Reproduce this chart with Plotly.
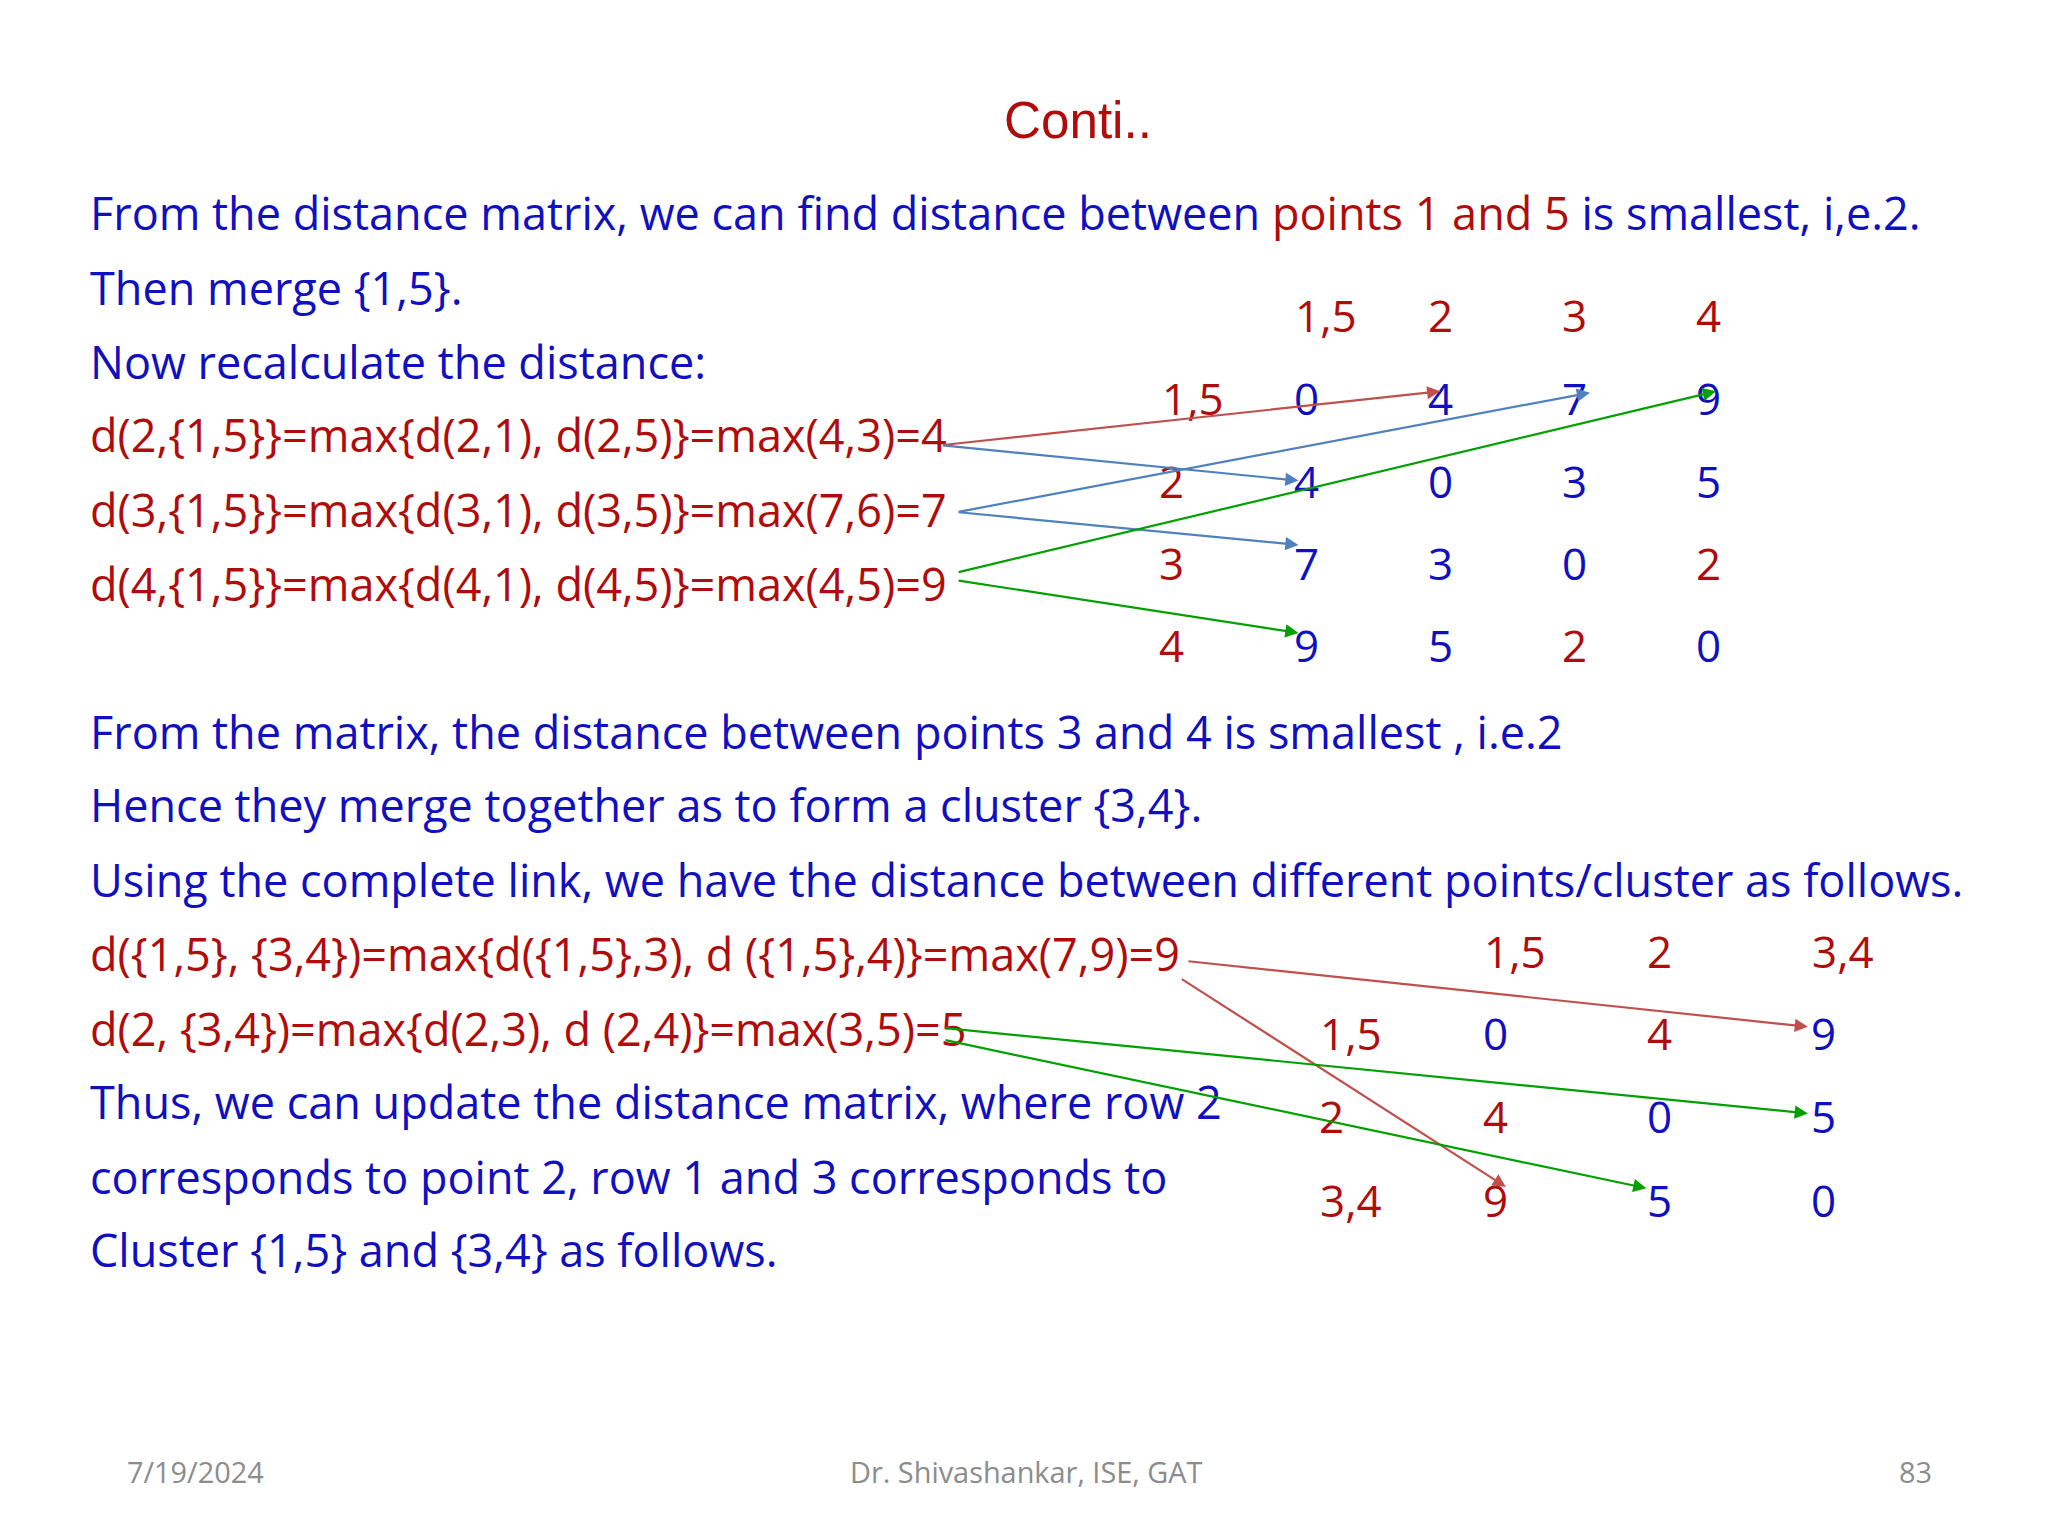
import plotly.graph_objects as go

BLUE = "#1010C0"
RED = "#B00C0C"
FONT = "Open Sans"

title = "Conti.."
upper_lines = [
    ("From the distance matrix, we can find distance between <span style='color:%s'>points 1 and 5</span> is smallest, i,e.2." % RED, BLUE),
    ("Then merge {1,5}.", BLUE),
    ("Now recalculate the distance:", BLUE),
    ("d(2,{1,5}}=max{d(2,1), d(2,5)}=max(4,3)=4", RED),
    ("d(3,{1,5}}=max{d(3,1), d(3,5)}=max(7,6)=7", RED),
    ("d(4,{1,5}}=max{d(4,1), d(4,5)}=max(4,5)=9", RED),
]
upper_y = [163, 220, 276, 332, 389, 445]
lower_lines = [
    ("From the matrix, the distance between points 3 and 4 is smallest , i.e.2", BLUE),
    ("Hence they merge together as to form a cluster {3,4}.", BLUE),
    ("Using the complete link, we have the distance between different points/cluster as follows.", BLUE),
    ("d({1,5}, {3,4})=max{d({1,5},3), d ({1,5},4)}=max(7,9)=9", RED),
    ("d(2, {3,4})=max{d(2,3), d (2,4)}=max(3,5)=5", RED),
    ("Thus, we can update the distance matrix, where row 2", BLUE),
    ("corresponds to point 2, row 1 and 3 corresponds to", BLUE),
    ("Cluster {1,5} and {3,4} as follows.", BLUE),
]
lower_y = [558, 614, 671, 727, 784, 840, 897, 953]

m1_headers = ["1,5", "2", "3", "4"]
m1_values = [[0, 4, 7, 9], [4, 0, 3, 5], [7, 3, 0, 2], [9, 5, 2, 0]]
m1_red = [(2, 3), (3, 2)]
m2_headers = ["1,5", "2", "3,4"]
m2_values = [[0, 4, 9], [4, 0, 5], [9, 5, 0]]
m2_red = [(0, 1), (1, 0), (2, 0)]

footer_left, footer_mid, footer_right = "7/19/2024", "Dr. Shivashankar, ISE, GAT", "83"

DX, DY = -7, -7
fig = go.Figure()
ann = []
def txt(x, y, s, color, size=34.3, xa="left", fam=FONT):
    ann.append(dict(x=x + DX, y=y + DY, text=s, showarrow=False, xanchor=xa, yanchor="middle",
                    font=dict(family=fam, size=size*2048/1560, color=color)))

txt(822, 93, title, RED, 39, "center", "Liberation Sans")
for (s, c), y in zip(upper_lines, upper_y):
    txt(68, y, s, c)
for (s, c), y in zip(lower_lines, lower_y):
    txt(68, y, s, c)

hx1 = [1011, 1098, 1200, 1302]
vx1 = [996, 1098, 1200, 1302]
ry1 = [304, 367, 430, 492]
rlx1 = [910, 893, 893, 893]
for h, x in zip(m1_headers, hx1):
    txt(x, 241, h, RED, 33.5, xa="center")
for i, row in enumerate(m1_values):
    txt(rlx1[i], ry1[i], m1_headers[i], RED, 33.5, xa="center")
    for j, v in enumerate(row):
        txt(vx1[j], ry1[i], str(v), RED if (i, j) in m1_red else BLUE, 33.5, xa="center")

hx2 = [1155, 1265, 1405]
vx2 = [1140, 1265, 1390]
ry2 = [788, 851, 915]
rlx2 = [1030, 1015, 1030]
for h, x in zip(m2_headers, hx2):
    txt(x, 725, h, RED, 33.5, xa="center")
for i, row in enumerate(m2_values):
    txt(rlx2[i], ry2[i], m2_headers[i], RED, 33.5, xa="center")
    for j, v in enumerate(row):
        txt(vx2[j], ry2[i], str(v), RED if (i, j) in m2_red else BLUE, 33.5, xa="center")

GRAY = "#8C8C8C"
txt(150, 1122, footer_left, GRAY, 22, "center")
txt(783, 1122, footer_mid, GRAY, 22, "center")
txt(1460, 1122, footer_right, GRAY, 22, "center")

arrows = [
    ((718, 340), (1098, 299), "#C0504D"),
    ((718, 340), (990, 367), "#4F81BD"),
    ((730, 391), (1212, 300), "#4F81BD"),
    ((730, 391), (990, 416), "#4F81BD"),
    ((730, 437), (1308, 299), "#00A000"),
    ((730, 443), (990, 483), "#00A000"),
    ((905, 733), (1378, 783), "#C0504D"),
    ((900, 746), (1148, 905), "#C0504D"),
    ((720, 784), (1378, 849), "#00A000"),
    ((720, 793), (1255, 906), "#00A000"),
]
for (x0, y0), (x1, y1), c in arrows:
    ann.append(dict(x=x1 + DX, y=y1 + DY, ax=x0 + DX, ay=y0 + DY, xref="x", yref="y", axref="x", ayref="y",
                    showarrow=True, arrowhead=2, arrowsize=1.2, arrowwidth=2.2, arrowcolor=c, text=""))

fig.update_layout(annotations=ann, width=2048, height=1536,
                  margin=dict(l=0, r=0, t=0, b=0), plot_bgcolor="white", paper_bgcolor="white",
                  xaxis=dict(range=[0, 1560], visible=False, fixedrange=True),
                  yaxis=dict(range=[1170, 0], visible=False, fixedrange=True),
                  showlegend=False)
fig.write_html("out.html")
